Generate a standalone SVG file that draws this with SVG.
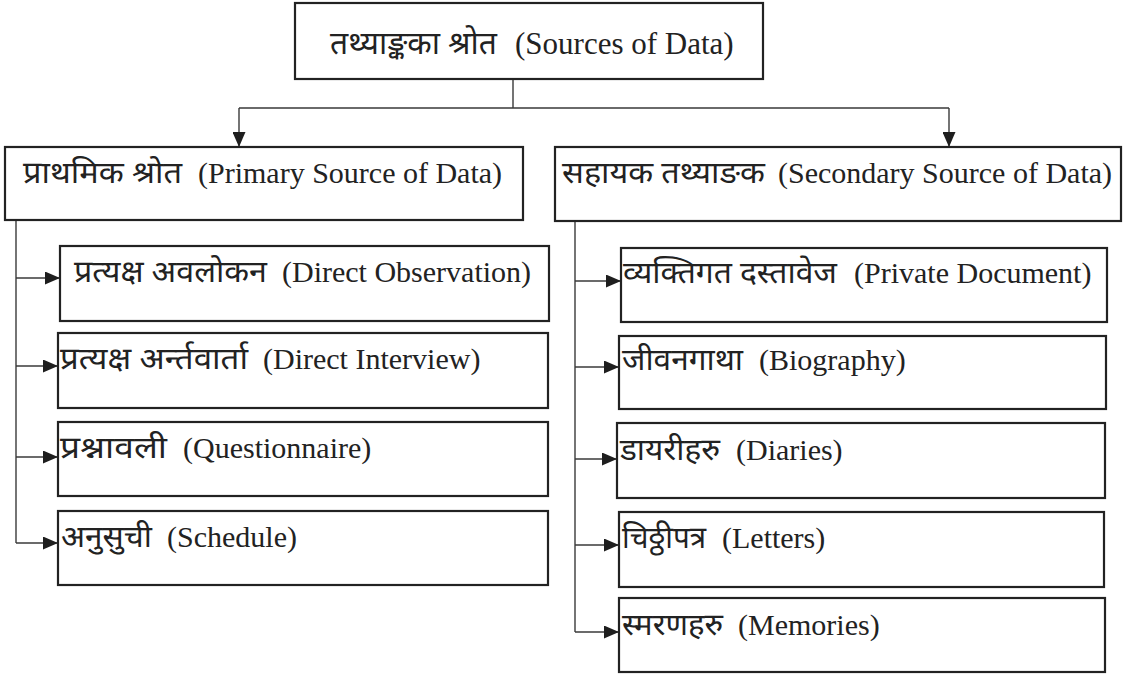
<svg xmlns="http://www.w3.org/2000/svg" width="1128" height="675" viewBox="0 0 1128 675">
<defs>
<marker id="ah" markerUnits="userSpaceOnUse" markerWidth="15" markerHeight="13" refX="15" refY="6.5" orient="auto">
<path d="M0,0 L15,6.5 L0,13 Z" fill="#1e1e1e"/>
</marker>
<style>
.box{fill:#fff;stroke:#222;stroke-width:2.2}
.con{fill:none;stroke:#3a3a3a;stroke-width:1.4}
text{fill:#222;font-family:"Liberation Serif","Noto Sans Devanagari","Noto Sans",serif}
.en1{font-size:31px}
.en{font-size:30px}
.dv{font-size:31px}
.dv1{font-size:32px}
</style>
</defs>
<rect width="1128" height="675" fill="#fff"/>
<g id="connectors">
<path class="con" d="M513,79 V108 M239,108 H949"/>
<path class="con" d="M239,108 V147" marker-end="url(#ah)"/>
<path class="con" d="M949,108 V147" marker-end="url(#ah)"/>
<path class="con" d="M16,220 V543"/>
<path class="con" d="M16,278 H60" marker-end="url(#ah)"/>
<path class="con" d="M16,366 H58" marker-end="url(#ah)"/>
<path class="con" d="M16,457 H58" marker-end="url(#ah)"/>
<path class="con" d="M16,543 H58" marker-end="url(#ah)"/>
<path class="con" d="M575,222 V632"/>
<path class="con" d="M575,281 H621" marker-end="url(#ah)"/>
<path class="con" d="M575,367 H619" marker-end="url(#ah)"/>
<path class="con" d="M575,459 H617" marker-end="url(#ah)"/>
<path class="con" d="M575,545 H619" marker-end="url(#ah)"/>
<path class="con" d="M575,632 H619" marker-end="url(#ah)"/>
</g>
<g id="root">
<rect class="box" x="295" y="3" width="468" height="76"/>
<text class="dv1" x="330" y="54" textLength="167" lengthAdjust="spacingAndGlyphs">तथ्याङ्कका श्रोत</text>
<text class="en1" x="515" y="54">(Sources of Data)</text>
</g>
<g id="primary">
<rect class="box" x="5" y="147" width="518" height="73"/>
<text class="dv" x="23" y="183" textLength="159" lengthAdjust="spacingAndGlyphs">प्राथमिक श्रोत</text>
<text class="en" x="198" y="183">(Primary Source of Data)</text>
</g>
<g id="secondary">
<rect class="box" x="555" y="147" width="566" height="74"/>
<text class="dv" x="562" y="183" textLength="203" lengthAdjust="spacingAndGlyphs">सहायक तथ्याङक</text>
<text class="en" x="778" y="183">(Secondary Source of Data)</text>
</g>
<g id="direct-observation">
<rect class="box" x="60" y="246" width="489" height="75"/>
<text class="dv" x="74" y="282" textLength="193" lengthAdjust="spacingAndGlyphs">प्रत्यक्ष अवलोकन</text>
<text class="en" x="282" y="282">(Direct Observation)</text>
</g>
<g id="direct-interview">
<rect class="box" x="58" y="333" width="490" height="75"/>
<text class="dv" x="60" y="369" textLength="188" lengthAdjust="spacingAndGlyphs">प्रत्यक्ष अर्न्तवार्ता</text>
<text class="en" x="263" y="369">(Direct Interview)</text>
</g>
<g id="questionnaire">
<rect class="box" x="58" y="422" width="490" height="74"/>
<text class="dv" x="60" y="458" textLength="107" lengthAdjust="spacingAndGlyphs">प्रश्नावली</text>
<text class="en" x="183" y="458">(Questionnaire)</text>
</g>
<g id="schedule">
<rect class="box" x="58" y="511" width="490" height="74"/>
<text class="dv" x="61" y="547" textLength="91" lengthAdjust="spacingAndGlyphs">अनुसुची</text>
<text class="en" x="167" y="547">(Schedule)</text>
</g>
<g id="private-document">
<rect class="box" x="621" y="248" width="486" height="74"/>
<text class="dv" x="623" y="283" textLength="214" lengthAdjust="spacingAndGlyphs">व्यक्तिगत दस्तावेज</text>
<text class="en" x="854" y="283">(Private Document)</text>
</g>
<g id="biography">
<rect class="box" x="619" y="336" width="487" height="73"/>
<text class="dv" x="622" y="370" textLength="121" lengthAdjust="spacingAndGlyphs">जीवनगाथा</text>
<text class="en" x="759" y="370">(Biography)</text>
</g>
<g id="diaries">
<rect class="box" x="617" y="423" width="488" height="75"/>
<text class="dv" x="620" y="460" textLength="100" lengthAdjust="spacingAndGlyphs">डायरीहरु</text>
<text class="en" x="736" y="460">(Diaries)</text>
</g>
<g id="letters">
<rect class="box" x="619" y="512" width="485" height="75"/>
<text class="dv" x="622" y="548" textLength="84" lengthAdjust="spacingAndGlyphs">चिठ्ठीपत्र</text>
<text class="en" x="722" y="548">(Letters)</text>
</g>
<g id="memories">
<rect class="box" x="619" y="598" width="486" height="74"/>
<text class="dv" x="622" y="635" textLength="101" lengthAdjust="spacingAndGlyphs">स्मरणहरु</text>
<text class="en" x="738" y="635">(Memories)</text>
</g>
</svg>
